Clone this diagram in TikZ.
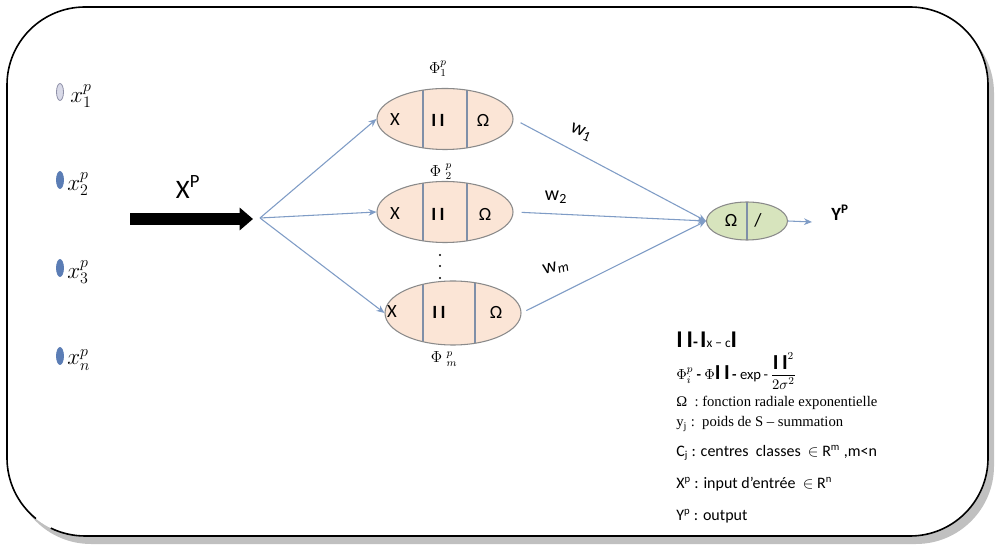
\documentclass[tikz,border=0pt]{standalone}
\usepackage{fontspec}
\setmainfont{Carlito}
\newfontfamily\serifleg{Liberation Serif}
\usetikzlibrary{shapes.geometric,arrows.meta}
\definecolor{peach}{HTML}{FBE5D6}
\definecolor{leaf}{HTML}{D7E4BD}
\definecolor{conn}{HTML}{7F9CC6}
\definecolor{rim}{HTML}{8A8A8A}
\definecolor{divc}{HTML}{7F8FA8}
\definecolor{dotblue}{HTML}{5B7DB5}
\definecolor{lav}{HTML}{D9DAE8}
\definecolor{lavdraw}{HTML}{8F90A8}
\definecolor{shadowgray}{HTML}{C0C0C0}
\begin{document}
\begin{tikzpicture}[x=0.75pt,y=0.75pt,
  link/.style={draw=conn, line width=0.8pt, -{Stealth[length=6pt,width=5pt]}},
  rbf/.style 2 args={ellipse, draw=rim, fill=peach, line width=0.8pt,
     minimum width=136*0.75pt, minimum height=61*0.75pt, inner sep=0pt,
     path picture={\draw[divc,line width=0.8pt]
        ([xshift=#1*0.75pt]path picture bounding box.north) -- ([xshift=#1*0.75pt]path picture bounding box.south)
        ([xshift=#2*0.75pt]path picture bounding box.north) -- ([xshift=#2*0.75pt]path picture bounding box.south);}},
  outcell/.style={ellipse, draw=rim, fill=leaf, line width=0.8pt,
     minimum width=81*0.75pt, minimum height=38*0.75pt, inner sep=0pt,
     path picture={\draw[divc,line width=0.8pt]
        (path picture bounding box.north) -- (path picture bounding box.south);}},
  celltext/.style={inner sep=0pt, font=\fontsize{14}{16}\selectfont},
  inoval/.style={ellipse, inner sep=0pt, minimum width=7*0.75pt, minimum height=17*0.75pt, line width=0.6pt},
  inlab/.style={inner sep=0pt, anchor=west, font=\fontsize{18}{21}\selectfont},
  philab/.style={inner sep=0pt, font=\fontsize{12}{14}\selectfont},
  wlab/.style={inner sep=0pt, font=\fontsize{15}{17}\selectfont},
  leg/.style={inner sep=0pt, anchor=west},
]
\useasboundingbox (0,0) rectangle (995,546);
% frame with shadow
\fill[shadowgray, rounded corners=58.5pt] (13,2) rectangle (994,531);
\fill[white, rounded corners=58.5pt] (7,10) rectangle (988,539);
\draw[line width=1.2pt] (50.8,17.9) arc[start angle=244,end angle=270,radius=78]
  -- (910,10) arc[start angle=270,end angle=360,radius=78]
  -- (988,461) arc[start angle=0,end angle=90,radius=78]
  -- (85,539) arc[start angle=90,end angle=180,radius=78]
  -- (7,88) arc[start angle=180,end angle=231,radius=78];

% inputs
\node[inoval, fill=lav, draw=lavdraw] (i1) at (60,454) {};
\node[inoval, fill=dotblue, draw=dotblue] (i2) at (60,366) {};
\node[inoval, fill=dotblue, draw=dotblue] (i3) at (60,278) {};
\node[inoval, fill=dotblue, draw=dotblue] (i4) at (60,190) {};
\node[inlab] (l1) at (70,450) {$x_1^p$};
\node[inlab] (l2) at (67,362) {$x_2^p$};
\node[inlab] (l3) at (67,274) {$x_3^p$};
\node[inlab] (l4) at (67,186) {$x_n^p$};

% big input arrow
\coordinate (bigstart) at (130,327);
\coordinate (bigtip) at (253,327);
\draw[line width=9pt, -{Triangle[length=10pt,width=16.5pt]}] (bigstart) -- (bigtip);
\node[inner sep=0pt, font=\fontsize{20}{22}\selectfont] (xp) at (188,359) {X\textsuperscript{P}};

% hidden units
\node[rbf={-22}{22}] (e1) at (445,427) {};
\node[rbf={-22}{22}] (e2) at (445,334) {};
\node[rbf={-30}{22}, minimum height=64*0.75pt] (e3) at (453,233) {};

\node[celltext] (e1x) at (395,426) {X};
\node[celltext] (e1b) at (438,426) {\textbf{I\,I}};
\node[celltext] (e1o) at (483,426) {Ω};
\node[celltext] (e2x) at (395,332) {X};
\node[celltext] (e2b) at (438,332) {\textbf{I\,I}};
\node[celltext] (e2o) at (485,332) {Ω};
\node[celltext] (e3x) at (392,234) {X};
\node[celltext] (e3b) at (439,234) {\textbf{I\,I}};
\node[celltext] (e3o) at (496,234) {Ω};

\node[philab] (p1) at (438,477) {$\Phi_1^p$};
\node[philab] (p2) at (441,374) {$\Phi\;{}^{p}_{2}$};
\node[philab] (pm) at (444,187) {$\Phi\;{}^{p}_{m}$};
\fill (440,291) circle[radius=1.2];
\fill (440,280) circle[radius=1.2];
\fill (440,268) circle[radius=1.2];

% branch
\coordinate (br) at (260,328);
\draw[link] (br) -- (e1.west);
\draw[link] (br) -- (e2.west);
\draw[link] (br) -- (e3.west);

% output unit
\node[outcell] (g) at (747,325) {};
\node[celltext] (go) at (731,326) {Ω};
\node[celltext] (gs) at (758,326) {/};
\draw[link, shorten <=6pt] (e1.east) -- (g.west);
\draw[link, shorten <=6pt] (e2.east) -- (g.west);
\draw[link, shorten <=4pt] (e3.east) -- (g.west);
\coordinate (yend) at (812,324);
\draw[link] (g.east) -- (yend);
\node[inner sep=0pt, font=\fontsize{14}{16}\selectfont] (yp) at (840,333) {\textbf{Y\textsuperscript{P}}};

\node[wlab, rotate=-22] (w1) at (581,413) {w\textsubscript{1}};
\node[wlab] (w2) at (556,349) {w\textsubscript{2}};
\node[wlab, rotate=14] (wm) at (556,278) {w\textsubscript{\itshape m}};

% legend
\node[leg] (g1) at (676,206) {{\fontsize{18}{20}\selectfont\bfseries I\,I}\textbf{\large -}\,{\fontsize{18}{20}\selectfont\bfseries I}{\fontsize{10}{11}\selectfont x − c}{\fontsize{18}{20}\selectfont\bfseries I}};
\node[leg] (g2) at (676,175) {\fontsize{11}{13}\selectfont $\Phi_i^p$ \textbf{-} $\Phi${\fontsize{16}{18}\selectfont\bfseries I\,I}\,\textbf{-} exp\,-\,$\displaystyle\frac{\mbox{\fontsize{16}{18}\selectfont\bfseries I\,I}^{2}}{2\sigma^{2}}$};
\node[leg] (g3) at (676,143) {\serifleg\fontsize{11}{13}\selectfont Ω\ \ : fonction radiale exponentielle};
\node[leg] (g4) at (676,122) {\serifleg\fontsize{11}{13}\selectfont y\textsubscript{j} :\ \ poids de S – summation};
\node[leg] (g5) at (676,93) {\fontsize{12}{14}\selectfont C\textsubscript{j} : centres\ \ classes\ \ $\in$ R\textsuperscript{m} ,m<n};
\node[leg] (g6) at (676,62) {\fontsize{12}{14}\selectfont X\textsuperscript{p} : input d’entrée\ \ $\in$ R\textsuperscript{n}};
\node[leg] (g7) at (676,30) {\fontsize{12}{14}\selectfont Y\textsuperscript{p} : output};
\end{tikzpicture}
\end{document}
